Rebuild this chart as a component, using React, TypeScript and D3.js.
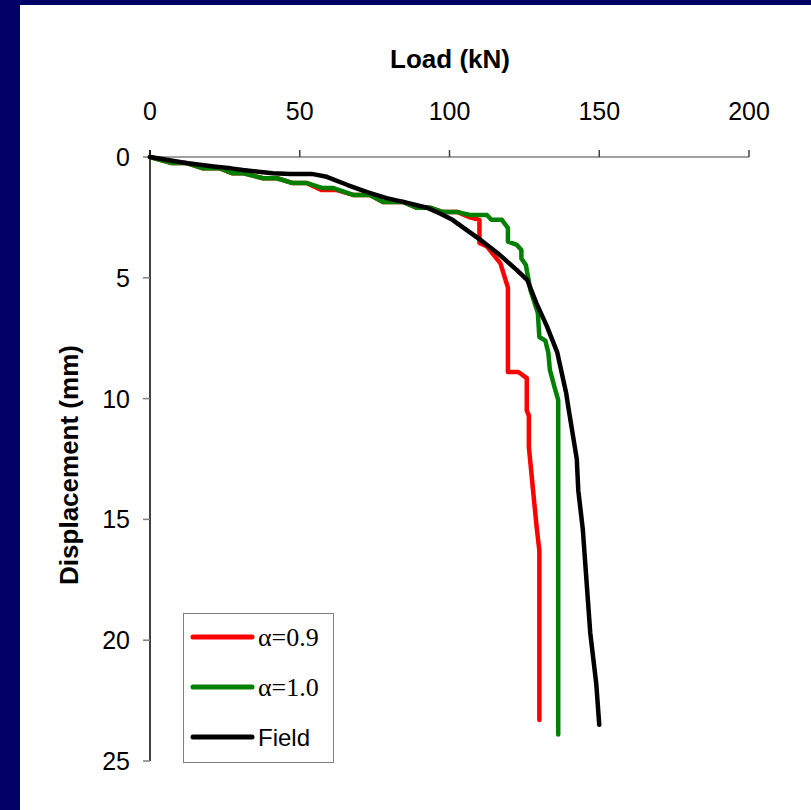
import React from "react";
import * as d3 from "d3";

const xTicks = [0, 50, 100, 150, 200];
const yTicks = [0, 5, 10, 15, 20, 25];

const fieldLoad = [0, 12, 22, 27, 31, 37, 41, 47, 54, 59, 66, 72.5, 79, 86, 92.5, 97, 101, 106, 110, 116, 122.5, 126, 129, 132.5, 136, 139, 139.6, 142.5, 143, 144.5, 147, 149, 150];
const fieldDisp = [0, 0.25, 0.4, 0.47, 0.54, 0.62, 0.67, 0.7, 0.7, 0.82, 1.16, 1.45, 1.7, 1.9, 2.1, 2.35, 2.6, 3.05, 3.4, 3.97, 4.68, 5.1, 6.05, 7.0, 8.1, 9.8, 10.3, 12.5, 13.8, 15.4, 19.7, 21.8, 23.5];

const a10Load = [0, 7.3, 12.3, 17.7, 23.4, 27.4, 31, 37.7, 42.4, 47.7, 52.4, 57.4, 61, 67.8, 73.5, 77.8, 84.5, 89, 93.5, 97.8, 102.8, 106.8, 112.5, 114, 117.5, 119.5, 119.5, 122.5, 124, 124, 125.5, 127, 129.5, 130, 132, 133, 133.5, 135, 136.3, 136.3];
const a10Disp = [0, 0.25, 0.25, 0.47, 0.47, 0.67, 0.67, 0.88, 0.88, 1.08, 1.08, 1.28, 1.28, 1.57, 1.57, 1.86, 1.86, 2.1, 2.1, 2.28, 2.28, 2.4, 2.4, 2.6, 2.6, 2.94, 3.5, 3.64, 3.85, 4.2, 4.47, 5.5, 6.46, 7.45, 7.6, 8.1, 8.8, 9.5, 10.06, 23.9];

const a09Load = [0, 7.3, 12.3, 17.7, 23.4, 27.4, 31, 37.7, 42.4, 47.7, 52.4, 57.4, 62.4, 67.8, 73.5, 77.8, 84.5, 89, 93.5, 97.8, 102.8, 106.8, 110, 110, 112.5, 117, 119.5, 119.5, 123, 125.8, 125.8, 126.5, 126.5, 129, 130, 130];
const a09Disp = [0, 0.25, 0.25, 0.47, 0.47, 0.67, 0.67, 0.88, 0.88, 1.08, 1.08, 1.37, 1.37, 1.57, 1.57, 1.86, 1.86, 2.1, 2.1, 2.28, 2.28, 2.5, 2.6, 3.56, 3.7, 4.4, 5.4, 8.9, 8.9, 9.15, 10.5, 10.7, 12.0, 15.2, 16.3, 23.3];

const seriesNames = ["α=0.9", "α=1.0", "Field"];
const seriesColors = ["#ff0000", "#008000", "#000000"];

export default function App() {
  const x = d3.scaleLinear().domain([0, 200]).range([150, 749]);
  const y = d3.scaleLinear().domain([0, 25]).range([157, 761]);
  const line = d3
    .line<[number, number]>()
    .x((d) => x(d[0]))
    .y((d) => y(d[1]));
  const zip = (a: number[], b: number[]) => a.map((v, i) => [v, b[i]] as [number, number]);
  const series = [zip(a09Load, a09Disp), zip(a10Load, a10Disp), zip(fieldLoad, fieldDisp)];

  return (
    <svg
      width={811}
      height={810}
      style={{ position: "absolute", left: 0, top: 0, display: "block" }}
      fontFamily="Arial, 'Liberation Sans', sans-serif"
    >
      <rect x={0} y={0} width={811} height={810} fill="#ffffff" />
      <rect x={0} y={0} width={811} height={5} fill="#000066" />
      <rect x={0} y={0} width={20} height={810} fill="#000066" />

      {/* x axis at top */}
      <line x1={x(0)} x2={x(200)} y1={y(0)} y2={y(0)} stroke="#808080" strokeWidth={1.5} />
      {xTicks.map((t) => (
        <g key={"xt" + t}>
          <line x1={x(t)} x2={x(t)} y1={y(0)} y2={y(0) - 7} stroke="#404040" strokeWidth={1.5} />
          <text x={x(t)} y={120} textAnchor="middle" fontSize={25} fill="#000">
            {t}
          </text>
        </g>
      ))}
      <text x={450} y={68} textAnchor="middle" fontSize={26} fontWeight="bold" fill="#000">
        Load (kN)
      </text>

      {/* y axis */}
      <line x1={x(0)} x2={x(0)} y1={y(0) - 7} y2={y(25)} stroke="#000" strokeWidth={1.5} />
      {yTicks.map((t) => (
        <g key={"yt" + t}>
          <line x1={x(0) - 7} x2={x(0)} y1={y(t)} y2={y(t)} stroke="#808080" strokeWidth={1.5} />
          <text x={130} y={y(t)} dy="0.36em" textAnchor="end" fontSize={25} fill="#000">
            {t}
          </text>
        </g>
      ))}
      <text
        transform={`translate(78,${465}) rotate(-90)`}
        textAnchor="middle"
        fontSize={26}
        fontWeight="bold"
        fill="#000"
      >
        Displacement (mm)
      </text>

      {/* series */}
      {series.map((s, i) => (
        <path
          key={"s" + i}
          d={line(s) || ""}
          fill="none"
          stroke={seriesColors[i]}
          strokeWidth={4.5}
          strokeLinejoin="round"
          strokeLinecap="round"
        />
      ))}

      {/* legend */}
      <rect x={183.5} y={613.5} width={150} height={149} fill="#fff" stroke="#808080" strokeWidth={1} />
      {seriesNames.map((n, i) => (
        <g key={"lg" + i}>
          <line
            x1={193}
            x2={252}
            y1={637 + i * 50}
            y2={637 + i * 50}
            stroke={seriesColors[i]}
            strokeWidth={5}
            strokeLinecap="round"
          />
          <text
            x={258}
            y={637 + i * 50}
            dy="0.36em"
            fontSize={i < 2 ? 26 : 24}
            fontFamily={i < 2 ? "'Liberation Serif', 'Times New Roman', serif" : "Arial, 'Liberation Sans', sans-serif"}
            fill="#000"
          >
            {n}
          </text>
        </g>
      ))}
    </svg>
  );
}
